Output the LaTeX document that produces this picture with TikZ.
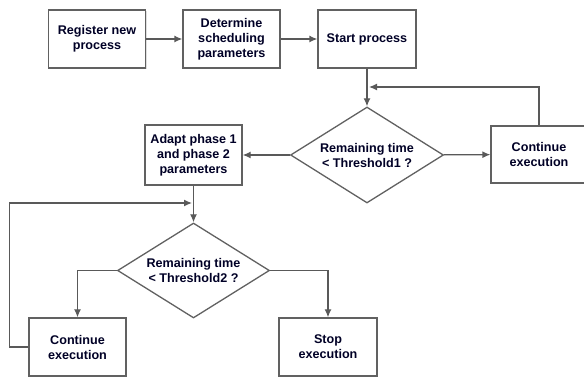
\documentclass[tikz,border=0pt]{standalone}
\usepackage{fontspec}
\setmainfont{Liberation Sans}
\usetikzlibrary{shapes.geometric,arrows.meta,shadows}

\begin{document}
\begin{tikzpicture}[x=1pt,y=-1pt,
  box/.style={draw=black!62, line width=1.3pt, fill=white, align=center,
    minimum width=97pt, minimum height=58pt, inner sep=0pt,
    font=\bfseries\fontsize{12.6}{15}\selectfont, text=black!85!blue,
    drop shadow={opacity=0.25, shadow xshift=1.2pt, shadow yshift=-1.2pt}},
  test/.style={draw=black!62, line width=1.3pt, fill=white, shape=diamond, align=center,
    aspect=1.6, inner sep=0pt, minimum width=153pt, minimum height=96pt,
    font=\bfseries\fontsize{12.6}{15}\selectfont, text=black!85!blue},
  arr/.style={draw=black!65, line width=1.3pt, -{Latex[length=8pt,width=7pt]}}]
\useasboundingbox (0,0) rectangle (584,379);

\node[box] (reg) at (97,39) {Register new\\process};
\node[box] (det) at (231.5,39) {Determine\\scheduling\\parameters};
\node[box, minimum width=98pt] (start) at (367,39) {Start process};
\node[test] (th1) at (367,155) {Remaining time\\< Threshold1 ?};
\node[box, minimum width=96pt, minimum height=57pt] (cont1) at (539,154.5) {Continue\\execution};
\node[box, minimum height=60pt] (adapt) at (193.5,155) {Adapt phase 1\\and phase 2\\parameters};
\node[test, minimum width=152pt, minimum height=95pt] (th2) at (193.5,270.5) {Remaining time\\< Threshold2 ?};
\node[box] (cont2) at (77.5,347) {Continue\\execution};
\node[box, minimum width=98pt] (stop) at (328,347) {Stop\\execution};

\coordinate (m1) at (369,87);
\coordinate (m2) at (192,203);

\draw[arr] (reg) -- (det);
\draw[arr] (det) -- (start);
\draw[arr] (start) -- (th1);
\draw[arr] (cont1.north) |- (m1);
\draw[arr] (th1) -- (cont1);
\draw[arr] (th1) -- (adapt);
\draw[arr] (adapt) -- (th2);
\draw[arr] (cont2.west) -- ++(-19,0) |- (m2);
\draw[arr] (th2.west) -| (cont2.north);
\draw[arr] (th2.east) -| (stop.north);
\end{tikzpicture}
\end{document}
